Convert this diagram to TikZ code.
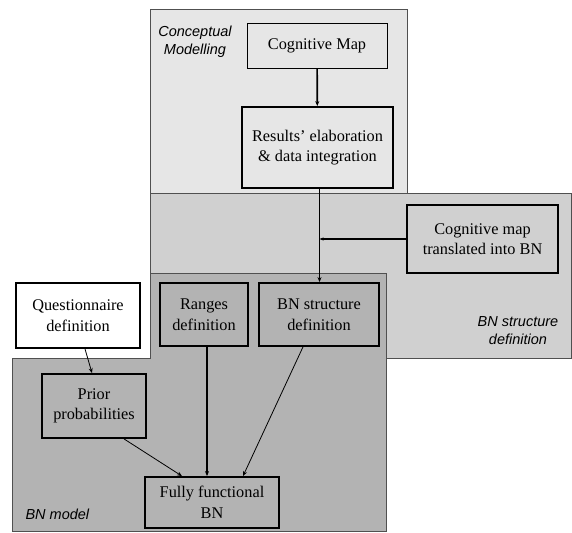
\documentclass[tikz,border=0pt]{standalone}
\usepackage{fontspec}
\setmainfont{Liberation Serif}
\setsansfont{Liberation Sans}
\usetikzlibrary{arrows.meta, positioning}

\definecolor{conceptfill}{HTML}{E6E6E6}
\definecolor{structfill}{HTML}{D0D0D0}
\definecolor{modelfill}{HTML}{B3B3B3}
\definecolor{areaedge}{HTML}{505050}

\begin{document}
\begin{tikzpicture}[x=1pt, y=-1pt,
    >={Stealth[length=5pt,width=4pt]},
    area/.style={draw=areaedge, line width=1pt},
    arealabel/.style={font=\sffamily\itshape\fontsize{14.5}{18}\selectfont, align=center},
    stage/.style={draw, line width=1.8pt, align=center, inner sep=2pt,
        font=\fontsize{16.3}{20.5}\selectfont},
    thinstage/.style={stage, line width=0.9pt},
    mainflow/.style={->, line width=1.7pt},
    sideflow/.style={->, line width=0.8pt}]

    \useasboundingbox (0,0) rectangle (572,532);

    % areas
    \draw[area, fill=conceptfill] (150,10) rectangle (407,193);
    \draw[area, fill=structfill] (150,193) rectangle (571,358);
    \draw[area, fill=modelfill] (150,273) -- (386,273) -- (386,531)
        -- (12,531) -- (12,358) -- (150,358) -- cycle;

    \node[arealabel] (concept) at (195,42) {Conceptual\\Modelling};
    \node[arealabel] (structure) at (518,331) {BN structure\\definition};
    \node[arealabel, anchor=west] (model) at (22,514) {BN model};

    % stages
    \node[thinstage, fill=conceptfill, minimum width=140pt, minimum height=45pt]
        (cmap) at (317,45.5) {Cognitive Map};
    \node[stage, fill=conceptfill, minimum width=151pt, minimum height=81pt]
        (results) at (317.5,147.5) {Results' elaboration\\\& data integration};
    \node[stage, fill=structfill, minimum width=151pt, minimum height=68pt]
        (translated) at (482.5,239) {Cognitive map\\translated into BN};
    \node[stage, fill=white, minimum width=124pt, minimum height=65pt]
        (quest) at (78,315.5) {Questionnaire\\definition};
    \node[stage, fill=modelfill, minimum width=88pt, minimum height=63pt]
        (ranges) at (204,314.5) {Ranges\\definition};
    \node[stage, fill=modelfill, minimum width=120pt, minimum height=63pt]
        (bnstruct) at (319,314.5) {BN structure\\definition};
    \node[stage, fill=modelfill, minimum width=104pt, minimum height=64pt]
        (prior) at (94,406) {Prior\\probabilities};
    \node[stage, fill=modelfill, minimum width=134pt, minimum height=51pt]
        (fully) at (212,502.5) {Fully functional\\BN};

    % flows
    \draw[mainflow] (cmap) -- (results);
    \draw[mainflow] ([xshift=2pt]results.south) -- ([xshift=2pt]results.south |- bnstruct.north);
    \draw[mainflow, -{Stealth[length=4pt,width=3pt]}] (translated.west) -- ([xshift=2pt]results.south |- translated.west);
    \draw[mainflow] ([xshift=3pt]ranges.south) -- ([xshift=3pt]ranges.south |- fully.north);
    \draw[sideflow] ([xshift=-16pt]bnstruct.south) -- ([xshift=31pt]fully.north);
    \draw[sideflow] ([xshift=7pt]quest.south) -- ([xshift=-2pt]prior.north);
    \draw[sideflow] ([xshift=30pt]prior.south) -- ([xshift=-30pt]fully.north);
\end{tikzpicture}
\end{document}
